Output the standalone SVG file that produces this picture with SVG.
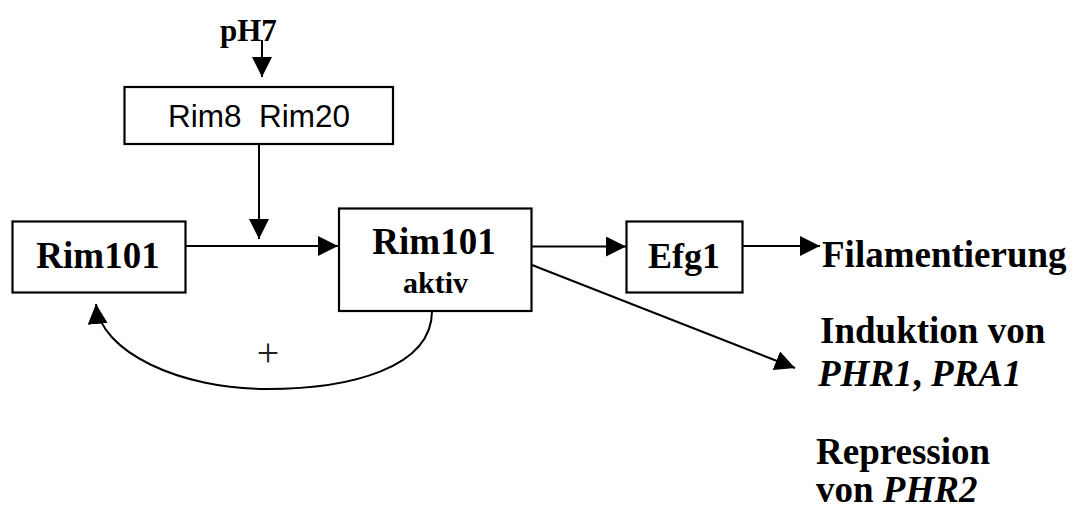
<svg xmlns="http://www.w3.org/2000/svg" width="1075" height="511" viewBox="0 0 1075 511">
  <style>
    .box { fill: #fff; stroke: #000; stroke-width: 2.2; }
    .con { fill: none; stroke: #000; stroke-width: 2; }
    .tb { font-family: "Liberation Serif", "Times New Roman", serif; font-weight: bold; fill: #000; }
    .ti { font-family: "Liberation Serif", "Times New Roman", serif; font-weight: bold; font-style: italic; }
    .sans { font-family: "Liberation Sans", Arial, sans-serif; fill: #000; }
  </style>
  <defs>
    <marker id="arr" markerUnits="userSpaceOnUse" markerWidth="21" markerHeight="21" refX="20" refY="10" orient="auto">
      <path d="M0,0 L20,10 L0,20 Z" fill="#000"/>
    </marker>
  </defs>
  <rect width="1075" height="511" fill="#fff"/>

  <g id="connectors">
    <line class="con" x1="262" y1="40" x2="262" y2="77" marker-end="url(#arr)"/>
    <line class="con" x1="259" y1="144" x2="259" y2="239" marker-end="url(#arr)"/>
    <line class="con" x1="185" y1="246" x2="338" y2="246" marker-end="url(#arr)"/>
    <line class="con" x1="532" y1="246.5" x2="626" y2="246.5" marker-end="url(#arr)"/>
    <line class="con" x1="743" y1="246" x2="820" y2="246" marker-end="url(#arr)"/>
    <line class="con" x1="532" y1="265" x2="795" y2="368" marker-end="url(#arr)"/>
    <path class="con" d="M432,311 C432,368 350,389 267,389 C180,389 100,352 96,304" marker-end="url(#arr)"/>
    <text x="268" y="366" font-family="Liberation Serif, serif" font-size="40" text-anchor="middle" fill="#222">+</text>
  </g>

  <g id="ph7">
    <text class="tb" x="220" y="41" font-size="31">pH7</text>
  </g>

  <g id="rim8-rim20">
    <rect class="box" x="124.5" y="87" width="268.5" height="57"/>
    <text class="sans" x="168" y="127" font-size="31" textLength="182" lengthAdjust="spacingAndGlyphs" xml:space="preserve">Rim8  Rim20</text>
  </g>

  <g id="rim101">
    <rect class="box" x="12.5" y="221.5" width="173" height="71"/>
    <text class="tb" x="98" y="268" font-size="37" text-anchor="middle">Rim101</text>
  </g>

  <g id="rim101-aktiv">
    <rect class="box" x="339" y="208.5" width="192.5" height="102.5"/>
    <text class="tb" x="434" y="254" font-size="37" text-anchor="middle">Rim101</text>
    <text class="tb" x="435.5" y="293" font-size="30" text-anchor="middle">aktiv</text>
  </g>

  <g id="efg1">
    <rect class="box" x="626.5" y="221.5" width="116" height="71"/>
    <text class="tb" x="684" y="268" font-size="36" text-anchor="middle">Efg1</text>
  </g>

  <g id="filamentierung">
    <text class="tb" x="822" y="267" font-size="37">Filamentierung</text>
  </g>

  <g id="induktion">
    <text class="tb" x="820" y="343" font-size="37">Induktion von</text>
    <text class="tb" x="818" y="386" font-size="37"><tspan class="ti">PHR1</tspan>, <tspan class="ti">PRA1</tspan></text>
  </g>

  <g id="repression">
    <text class="tb" x="816" y="464" font-size="37">Repression</text>
    <text class="tb" x="816" y="502" font-size="37">von <tspan class="ti">PHR2</tspan></text>
  </g>
</svg>
